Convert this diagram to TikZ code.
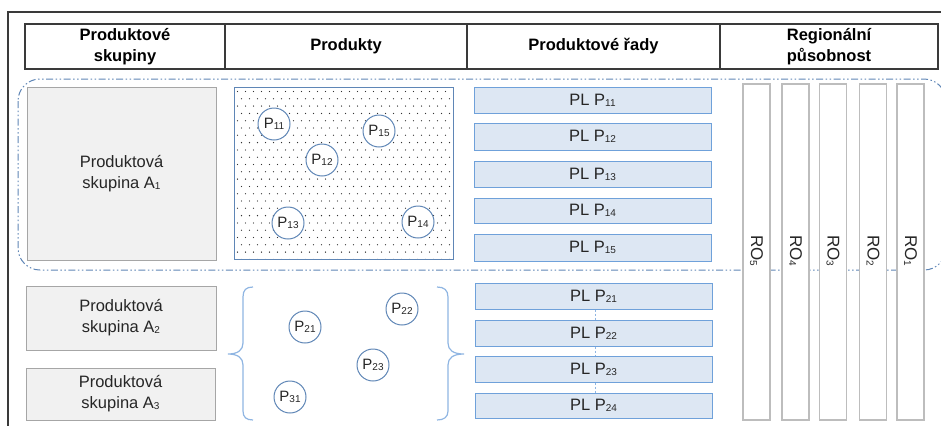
\documentclass[tikz,border=0pt]{standalone}
\usepackage{fontspec}
\setmainfont{Liberation Sans}
\newcommand{\lowidx}[1]{{\fontsize{10}{10}\selectfont\raisebox{-1pt}{#1}}}
\definecolor{frameline}{HTML}{3A3A3A}
\definecolor{txt}{HTML}{262626}
\definecolor{grpfill}{HTML}{F1F1F1}
\definecolor{grpline}{HTML}{A6A6A6}
\definecolor{steel}{HTML}{5F86B6}
\definecolor{plfill}{HTML}{DDE7F3}
\definecolor{plline}{HTML}{6FA1DA}
\definecolor{brace}{HTML}{8FB5E2}
\definecolor{roline}{HTML}{BDBDBD}
\tikzset{
  headcell/.style={draw=frameline, line width=1.1pt, minimum height=45pt, inner sep=0pt,
    align=center, text=black, font=\fontsize{16.5}{21}\selectfont\bfseries},
  grpbox/.style={draw=grpline, fill=grpfill, line width=1pt, inner sep=0pt, align=center,
    text=txt, font=\fontsize{16.5}{21}\selectfont},
  prod/.style={circle, draw=steel, fill=white, line width=1pt, minimum size=32pt, inner sep=0pt,
    text=txt, font=\fontsize{15}{15}\selectfont},
  plbox/.style={draw=plline, fill=plfill, line width=1pt, minimum width=237pt, inner sep=0pt,
    text=txt, font=\fontsize{16.5}{18}\selectfont},
  rocol/.style={draw=roline, fill=white, line width=1.2pt, minimum width=27pt, minimum height=336pt, inner sep=0pt},
  rolabel/.style={rotate=-90, text=txt, font=\fontsize{17}{18}\selectfont, inner sep=0pt},
  bracket/.style={draw=brace, line width=1.2pt},
  chain/.style={draw=brace, line width=0.8pt, dash pattern=on 2pt off 2pt},
  regionline/.style={draw=steel, line width=1pt, dash pattern=on 7pt off 2.5pt on 1.5pt off 2.5pt on 1.5pt off 2.5pt}
}
\begin{document}
\begin{tikzpicture}[x=1pt, y=-1pt]
\useasboundingbox (0,0) rectangle (941,426);

% outer frame (top and left edges)
\draw[frameline, line width=1.2pt] (941,12) -- (8,12) -- (8,426);

% header row
\node[headcell, minimum width=200pt] (h1) at (125,46.5) {Produktové\\skupiny};
\node[headcell, minimum width=242pt] (h2) at (346,46.5) {Produkty};
\node[headcell, minimum width=253pt] (h3) at (593.5,46.5) {Produktové řady};
\node[headcell, minimum width=218pt] (h4) at (829,46.5) {Regionální\\působnost};

% region of product group A1
\begin{scope}
\clip (0,0) rectangle (941,426);
\draw[regionline, rounded corners=22pt] (18,79) rectangle (946,270);
\end{scope}

% product groups
\node[grpbox, minimum width=189pt, minimum height=173pt] (a1) at (121.5,173.5) {Produktová\\skupina A\lowidx{1}};
\node[grpbox, minimum width=190pt, minimum height=64pt] (a2) at (121,318) {Produktová\\skupina A\lowidx{2}};
\node[grpbox, minimum width=189pt, minimum height=52pt] (a3) at (120.5,394) {Produktová\\skupina A\lowidx{3}};

% dotted product area of A1
\node[draw=steel, line width=1pt, minimum width=219pt, minimum height=172pt, inner sep=0pt] (area) at (343.5,173) {};
\begin{scope}
\clip (235,88) rectangle (452,258);
\foreach \j in {0,...,23} {
  \pgfmathsetmacro\yy{91.5+7.3*\j}
  \pgfmathsetmacro\off{mod(\j,2)*4}
  \foreach \i in {0,...,27} {
    \fill[black!80] ({237.5+\off+8*\i},\yy) circle (0.65pt);
  }
}
\end{scope}

% products
\node[prod] (p11) at (274,124) {P\lowidx{11}};
\node[prod] (p15) at (379,131) {P\lowidx{15}};
\node[prod] (p12) at (322,160) {P\lowidx{12}};
\node[prod] (p13) at (288,223) {P\lowidx{13}};
\node[prod] (p14) at (418,222) {P\lowidx{14}};

\node[prod] (p21) at (305,327) {P\lowidx{21}};
\node[prod] (p22) at (402,309) {P\lowidx{22}};
\node[prod] (p23) at (373,365) {P\lowidx{23}};
\node[prod] (p31) at (290,397) {P\lowidx{31}};

% braces round the products of A2 and A3
\coordinate (bl) at (228,354);
\coordinate (br) at (464,354);
\draw[bracket] (253,287) .. controls (246,287) and (243,290) .. (243,297) -- (243,343)
  .. controls (243,350) and (238,354) .. (bl)
  .. controls (238,354) and (243,358) .. (243,365) -- (243,411)
  .. controls (243,417) and (246,420) .. (253,420);
\draw[bracket] (437,287) .. controls (444,287) and (448,290) .. (448,297) -- (448,343)
  .. controls (448,350) and (453,354) .. (br)
  .. controls (453,354) and (448,358) .. (448,365) -- (448,411)
  .. controls (448,417) and (444,420) .. (437,420);

% product lines
\node[plbox, minimum height=26pt] (pl11) at (592.5,100) {PL P\lowidx{11}};
\node[plbox, minimum height=27pt] (pl12) at (592.5,136.5) {PL P\lowidx{12}};
\node[plbox, minimum height=26pt] (pl13) at (592.5,174) {PL P\lowidx{13}};
\node[plbox, minimum height=25pt] (pl14) at (592.5,210.5) {PL P\lowidx{14}};
\node[plbox, minimum height=27pt] (pl15) at (592.5,247.5) {PL P\lowidx{15}};

\node[plbox, minimum height=26pt] (pl21) at (593.5,296) {PL P\lowidx{21}};
\node[plbox, minimum height=26pt] (pl22) at (593.5,333) {PL P\lowidx{22}};
\node[plbox, minimum height=26pt] (pl23) at (593.5,369) {PL P\lowidx{23}};
\node[plbox, minimum height=25pt] (pl24) at (593.5,405.5) {PL P\lowidx{24}};

\draw[chain] ([xshift=2pt]pl21.south) -- ([xshift=2pt]pl22.north);
\draw[chain] ([xshift=2pt]pl22.south) -- ([xshift=2pt]pl23.north);
\draw[chain] ([xshift=2pt]pl23.south) -- ([xshift=2pt]pl24.north);

% regional scope columns
\node[rocol] (ro5) at (756.5,252) {};
\node[rocol] (ro4) at (795.5,252) {};
\node[rocol] (ro3) at (833,252) {};
\node[rocol] (ro2) at (873,252) {};
\node[rocol] (ro1) at (910.5,252) {};
\node[rolabel] (t5) at (ro5 |- 0,251) {RO\lowidx{5}};
\node[rolabel] (t4) at (ro4 |- 0,251) {RO\lowidx{4}};
\node[rolabel] (t3) at (ro3 |- 0,251) {RO\lowidx{3}};
\node[rolabel] (t2) at (ro2 |- 0,251) {RO\lowidx{2}};
\node[rolabel] (t1) at (ro1 |- 0,251) {RO\lowidx{1}};
\end{tikzpicture}
\end{document}
